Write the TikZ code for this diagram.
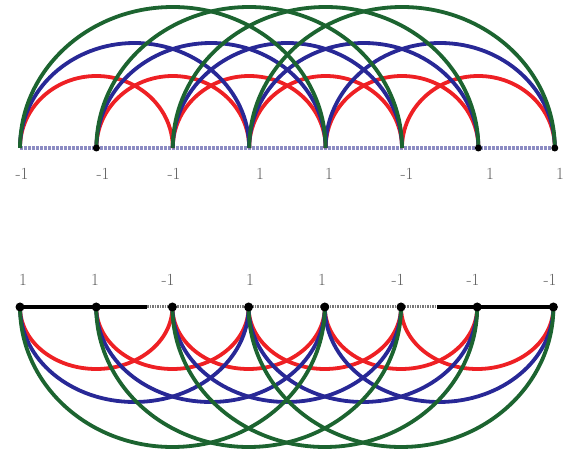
\documentclass[tikz,border=0pt]{standalone}
\usepackage{xcolor}
\definecolor{arcred}{RGB}{238,32,36}
\definecolor{arcblue}{RGB}{40,40,150}
\definecolor{arcgreen}{RGB}{28,100,48}
\definecolor{topbase}{RGB}{140,140,195}
\definecolor{botbase}{RGB}{120,120,120}
\definecolor{labgray}{RGB}{95,95,95}
\begin{document}
\begin{tikzpicture}[x=1pt,y=1pt,
  redarc/.style={draw=arcred,line width=3.8pt},
  bluearc/.style={draw=arcblue,line width=3.8pt},
  greenarc/.style={draw=arcgreen,line width=3.8pt},
  topline/.style={draw=topbase,line width=3.5pt,dash pattern=on 2.5pt off 1.5pt},
  botsolid/.style={draw=black,line width=4.5pt},
  botdotted/.style={draw=botbase,line width=3pt,dash pattern=on 1.5pt off 1pt},
  topdot/.style={circle,fill=black,inner sep=0pt,minimum size=7pt},
  botdot/.style={circle,fill=black,inner sep=0pt,minimum size=9pt},
  lab/.style={font=\fontsize{17}{19}\selectfont,text=labgray,inner sep=0pt}]
\useasboundingbox (0,0) rectangle (574,461);
\foreach \i in {0,...,7} {
  \coordinate (t\i) at ({20+76.4*\i},313);
  \coordinate (b\i) at ({20+76.2*\i},154);
}
\coordinate (bm1) at (147,154);
\coordinate (bm2) at (437,154);
% top baseline
\draw[topline] (t0) -- (t7);
% top arcs
\foreach \i in {0,...,5} \draw[redarc] (t\i) arc[start angle=180,end angle=0,x radius=76.4,y radius=72];
\foreach \i in {0,...,4} \draw[bluearc] (t\i) arc[start angle=180,end angle=0,x radius=114.6,y radius=105];
\foreach \i in {0,...,3} \draw[greenarc] (t\i) arc[start angle=180,end angle=0,x radius=152.8,y radius=141];
\node[topdot] (dt1) at (t1) {};
\node[topdot] (dt6) at (t6) {};
\node[topdot] (dt7) at (t7) {};
% top labels
\node[lab] (lt0) at (22,287) {-1};
\node[lab] (lt1) at (103,287) {-1};
\node[lab] (lt2) at (174,287) {-1};
\node[lab] (lt3) at (260,287) {1};
\node[lab] (lt4) at (329,287) {1};
\node[lab] (lt5) at (407,287) {-1};
\node[lab] (lt6) at (490,287) {1};
\node[lab] (lt7) at (560,287) {1};
% bottom baseline
\draw[botsolid] (b0) -- (bm1);
\draw[botdotted] (bm1) -- (bm2);
\draw[botsolid] (bm2) -- (b7);
% bottom arcs
\foreach \i in {0,...,5} \draw[redarc] (b\i) arc[start angle=180,end angle=360,x radius=76.2,y radius=62];
\foreach \i in {0,...,4} \draw[bluearc] (b\i) arc[start angle=180,end angle=360,x radius=114.3,y radius=95];
\foreach \i in {0,...,3} \draw[greenarc] (b\i) arc[start angle=180,end angle=360,x radius=152.4,y radius=140];
\foreach \i in {0,...,7} \node[botdot] (db\i) at (b\i) {};
% bottom labels
\node[lab] (lb0) at (23,181) {1};
\node[lab] (lb1) at (95,181) {1};
\node[lab] (lb2) at (168,181) {-1};
\node[lab] (lb3) at (250,181) {1};
\node[lab] (lb4) at (322,181) {1};
\node[lab] (lb5) at (398,181) {-1};
\node[lab] (lb6) at (473,181) {-1};
\node[lab] (lb7) at (550,181) {-1};
\end{tikzpicture}
\end{document}
